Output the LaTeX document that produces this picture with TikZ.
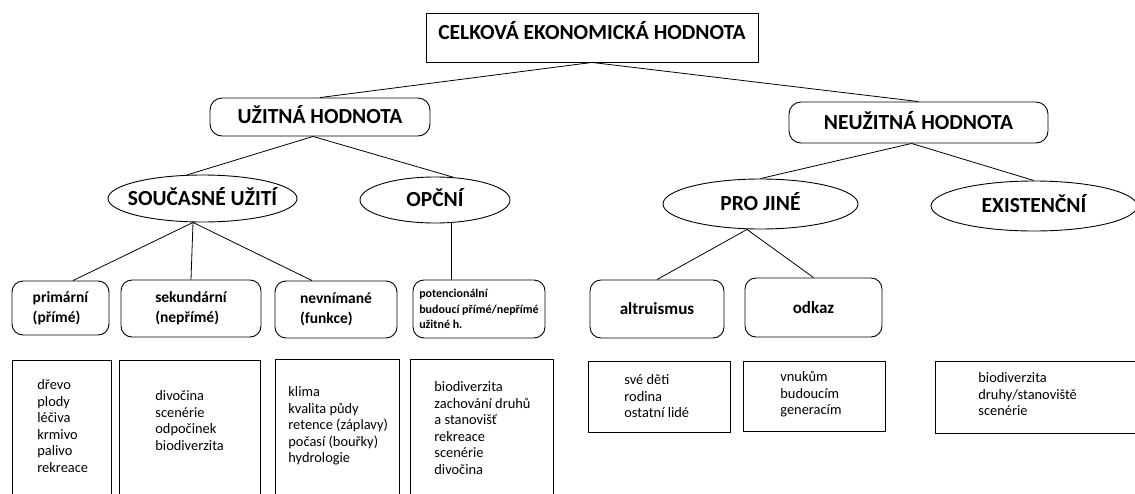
\documentclass[tikz,border=0pt]{standalone}
\usepackage{fontspec}
\setmainfont{Carlito}
\usetikzlibrary{positioning}
\usetikzlibrary{shapes.geometric}
\tikzset{valbox/.style = {draw, line width=0.9pt, inner sep=0pt, text height=14pt, text depth=1pt,
                          font=\bfseries\fontsize{21.5}{25}\selectfont},
         valell/.style = {valbox, ellipse, inner xsep=-12pt},
         kindbox/.style = {draw, line width=0.9pt, rounded corners=11pt, inner sep=0pt, align=left,
                           font=\bfseries\fontsize{15.5}{20}\selectfont},
         listbox/.style = {draw, line width=0.9pt, anchor=north west, inner sep=0pt},
         listtext/.style = {align=left, inner sep=0pt, font=\fontsize{14.4}{16.6}\selectfont}}

\begin{document}
\begin{tikzpicture}[x=1pt, y=-1pt, line width=0.8pt]
    \useasboundingbox (0, 0) rectangle (1135, 493);

    \node [valbox, minimum width=332pt, minimum height=49pt, text depth=9.5pt] (total) at (592, 37.5) {CELKOVÁ EKONOMICKÁ HODNOTA};
    \node [valbox, rounded corners=12pt, minimum width=220pt, minimum height=38pt] (use) at (320, 117) {UŽITNÁ HODNOTA};
    \node [valbox, rounded corners=12pt, minimum width=259pt, minimum height=41pt] (nonuse) at (918.5, 122.5) {NEUŽITNÁ HODNOTA};

    \node [valell, minimum width=189pt, minimum height=47pt] (current) at (202.5, 198.5) {SOUČASNÉ UŽITÍ};
    \node [valell, minimum width=150pt, minimum height=46pt] (option) at (435, 200) {OPČNÍ};
    \node [valell, minimum width=195pt, minimum height=50pt] (others) at (760.5, 204) {PRO JINÉ};
    \node [valell, minimum width=206pt, minimum height=50pt] (exist) at (1034, 206) {EXISTENČNÍ};

    \node [kindbox, minimum width=97pt, minimum height=54pt] (prim) at (60.5, 308) {primární\\(přímé)};
    \node [kindbox, minimum width=140pt, minimum height=57pt] (sec) at (191, 308.5) {sekundární\\(nepřímé)};
    \node [kindbox, minimum width=122pt, minimum height=57pt] (func) at (336, 309.5) {nevnímané\\(funkce)};
    \node [kindbox, minimum width=132pt, minimum height=58pt, font=\bfseries\fontsize{12}{15.5}\selectfont] (pot) at (479, 309)
        {potencionální\\budoucí přímé/nepřímé\\užitné h.};
    \node [kindbox, minimum width=134pt, minimum height=58pt, font=\bfseries\fontsize{17}{20}\selectfont] (altr) at (657, 309) {altruismus};
    \node [kindbox, minimum width=137pt, minimum height=59pt, font=\bfseries\fontsize{17}{20}\selectfont] (beq) at (813.5, 307.5) {odkaz};

    \draw (total.south) -- (use.north);
    \draw (total.south) -- (nonuse.north);
    \draw ([xshift=-7pt]use.south) -- (current.123);
    \draw ([xshift=-7pt]use.south) -- (option.51);
    \draw ([xshift=-7pt]nonuse.south) -- (others.north);
    \draw ([xshift=-7pt]nonuse.south) -- (exist.north);
    \draw ([xshift=-9.5pt]current.south) -- ([xshift=12.5pt]prim.north);
    \draw ([xshift=-9.5pt]current.south) -- (sec.north);
    \draw ([xshift=-9.5pt]current.south) -- ([xshift=-24pt]func.north);
    \draw ([xshift=16pt]option.south) -- ([xshift=-28pt]pot.north);
    \draw ([xshift=-13.5pt]others.south) -- (altr.north);
    \draw ([xshift=-13.5pt]others.south) -- (beq.north);

    \node [listbox, minimum width=99pt, minimum height=150pt] (l1) at (12, 360) {};
    \node [listbox, minimum width=141pt, minimum height=150pt] (l2) at (119, 360) {};
    \node [listbox, minimum width=124pt, minimum height=150pt] (l3) at (275, 359) {};
    \node [listbox, minimum width=143pt, minimum height=150pt] (l4) at (410, 359) {};
    \node [listbox, minimum width=142pt, minimum height=71pt] (l5) at (588, 361) {};
    \node [listbox, minimum width=142pt, minimum height=70pt] (l6) at (743, 361) {};
    \node [listbox, minimum width=210pt, minimum height=72pt] (l7) at (935, 361) {};

    \node [listtext, below right=19pt and 25pt of l1.north west] {dřevo\\plody\\léčiva\\krmivo\\palivo\\rekreace};
    \node [listtext, below right=30pt and 36pt of l2.north west] {divočina\\scenérie\\odpočinek\\biodiverzita};
    \node [listtext, below right=27pt and 13pt of l3.north west] {klima\\kvalita půdy\\retence (záplavy)\\počasí (bouřky)\\hydrologie};
    \node [listtext, below right=22pt and 24pt of l4.north west] {biodiverzita\\zachování druhů\\a stanovišť\\rekreace\\scenérie\\divočina};
    \node [listtext, below right=13pt and 36pt of l5.north west] {své děti\\rodina\\ostatní lidé};
    \node [listtext, below right=10pt and 37pt of l6.north west] {vnukům\\budoucím\\generacím};
    \node [listtext, below right=11pt and 43pt of l7.north west] {biodiverzita\\druhy/stanoviště\\scenérie};
  \end{tikzpicture}
\end{document}
